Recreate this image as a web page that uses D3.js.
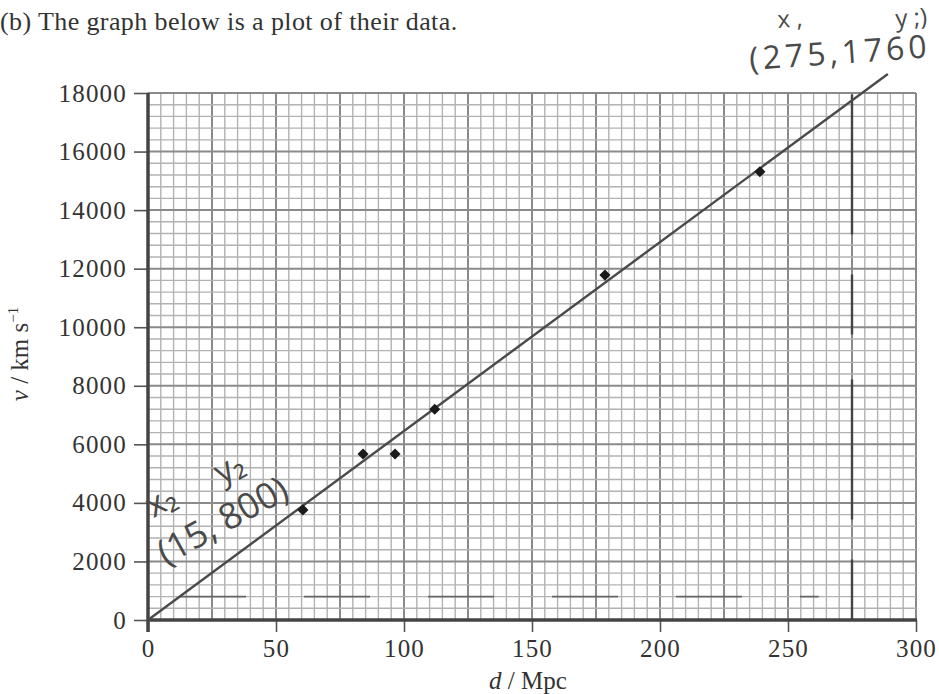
<!DOCTYPE html>
<html lang="en">
<head>
<meta charset="UTF-8">
<title>v against d</title>
<script src="https://d3js.org/d3.v7.min.js"></script>
<style>
    body { margin: 0; background: #fff; }
    svg { display: block; }
    .tick text { font-family: "Liberation Serif", "Times New Roman", serif; font-size: 25px; letter-spacing: 1.2px; fill: #333; }
    .hand { font-family: "Open Sans", sans-serif; font-weight: 400; fill: #4a4a4a; }
</style>
</head>
<body>
<svg width="939" height="694"></svg>
<script>
// data
const distance = [60.5, 84, 96.5, 112, 178.5, 239];
const velocity = [3760, 5670, 5670, 7200, 11780, 15310];
const xTicks = [0, 50, 100, 150, 200, 250, 300];
const yTicks = [0, 2000, 4000, 6000, 8000, 10000, 12000, 14000, 16000, 18000];
const fitLine = [[0, 0], [289, 18650]];          // best-fit line drawn by hand
const markX = [275];                              // dashed vertical line at x1
const markY = [800];                              // dashed horizontal line at y2

const svg = d3.select("svg");
const x = d3.scaleLinear().domain([0, 300]).range([148, 916]);
const y = d3.scaleLinear().domain([0, 18000]).range([620, 93]);

// heading
svg.append("text")
    .attr("x", 0).attr("y", 30)
    .attr("font-family", "Liberation Serif, serif")
    .attr("font-size", 26).attr("letter-spacing", 0.4).attr("fill", "#333")
    .text("(b) The graph below is a plot of their data.");

// graph paper
const grid = svg.append("g");
const minorX = d3.range(0, 301, 5);
const minorY = d3.range(0, 18001, 400);
grid.selectAll(".vx").data(minorX).enter().append("line")
    .attr("x1", d => x(d)).attr("x2", d => x(d))
    .attr("y1", y(18000)).attr("y2", y(0))
    .attr("stroke", d => d % 25 === 0 ? "#8a8a8a" : "#b2b2b2")
    .attr("stroke-width", d => d % 25 === 0 ? 2 : 1.4);
grid.selectAll(".hy").data(minorY).enter().append("line")
    .attr("x1", x(0)).attr("x2", x(300))
    .attr("y1", d => y(d)).attr("y2", d => y(d))
    .attr("stroke", d => d % 2000 === 0 ? "#8a8a8a" : "#b2b2b2")
    .attr("stroke-width", d => d % 2000 === 0 ? 2 : 1.4);

// axes
const yAxis = svg.append("g")
    .attr("transform", `translate(${x(0)},0)`)
    .call(d3.axisLeft(y).tickValues(yTicks).tickSize(14).tickPadding(7).tickFormat(d3.format("d")));
const xAxis = svg.append("g")
    .attr("transform", `translate(0,${y(0)})`)
    .call(d3.axisBottom(x).tickValues(xTicks).tickSize(12).tickPadding(7));
[yAxis, xAxis].forEach(a => {
    a.select(".domain").remove();
    a.selectAll(".tick line").attr("stroke", "#555").attr("stroke-width", 1.6);
});
svg.append("line").attr("x1", x(0)).attr("x2", x(0)).attr("y1", y(18000)).attr("y2", y(0) + 12)
    .attr("stroke", "#444").attr("stroke-width", 3.5);
svg.append("line").attr("x1", x(0)).attr("x2", x(300) + 1).attr("y1", y(0)).attr("y2", y(0))
    .attr("stroke", "#444").attr("stroke-width", 3.5);

// axis titles
svg.append("text")
    .attr("transform", "translate(28,354) rotate(-90)")
    .attr("text-anchor", "middle")
    .attr("font-family", "Liberation Serif, serif").attr("font-size", 25).attr("fill", "#333")
    .html('<tspan font-style="italic">v</tspan> / km s<tspan dy="-10" font-size="15">−1</tspan>');
svg.append("text")
    .attr("x", 528).attr("y", 689)
    .attr("text-anchor", "middle")
    .attr("font-family", "Liberation Serif, serif").attr("font-size", 25).attr("fill", "#333")
    .html('<tspan font-style="italic">d</tspan> / Mpc');

// hand-drawn construction lines
svg.selectAll(".mx").data(markX).enter().append("line")
    .attr("x1", d => x(d)).attr("x2", d => x(d))
    .attr("y1", y(17950)).attr("y2", y(0))
    .attr("stroke", "#444").attr("stroke-width", 2.4)
    .attr("stroke-dasharray", "140,40,60,45");
svg.selectAll(".my").data(markY).enter().append("line")
    .attr("x1", x(12.5)).attr("x2", x(262))
    .attr("y1", d => y(d)).attr("y2", d => y(d))
    .attr("stroke", "#666").attr("stroke-width", 1.8)
    .attr("stroke-dasharray", "66,58");

// best-fit line
svg.append("path")
    .datum(fitLine)
    .attr("d", d3.line().x(d => x(d[0])).y(d => y(d[1])))
    .attr("fill", "none").attr("stroke", "#4a4a4a").attr("stroke-width", 2.4);

// data points
svg.selectAll(".pt").data(distance).enter().append("path")
    .attr("transform", (d, i) => `translate(${x(d)},${y(velocity[i])}) rotate(45)`)
    .attr("d", d3.symbol().type(d3.symbolSquare).size(62))
    .attr("fill", "#1a1a1a");

// handwritten notes, top right
svg.append("text").attr("class", "hand").attr("font-size", 32).attr("letter-spacing", 4)
    .attr("transform", "translate(750,70) rotate(-4)").text("(275,1760");
svg.append("text").attr("class", "hand").attr("font-size", 24)
    .attr("transform", "translate(778,28) rotate(-4)").text("x ,");
svg.append("text").attr("class", "hand").attr("font-size", 24)
    .attr("transform", "translate(896,27) rotate(-4)").text("y ;)");

// handwritten notes, lower left
const note2 = svg.append("g").attr("transform", "translate(166,566) rotate(-29)");
note2.append("text").attr("class", "hand").attr("font-size", 36).attr("x", 0).attr("y", 0).text("(15, 800)");
note2.append("text").attr("class", "hand").attr("font-size", 34).attr("x", 12).attr("y", -48).text("x\u2082");
note2.append("text").attr("class", "hand").attr("font-size", 34).attr("x", 88).attr("y", -44).text("y\u2082");
</script>
</body>
</html>
